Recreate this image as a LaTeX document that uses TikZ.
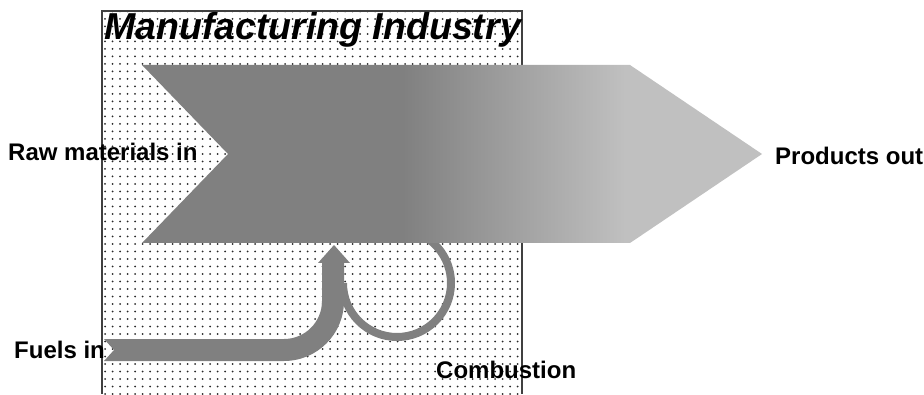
\documentclass[tikz,border=0pt]{standalone}
\usepackage{fontspec}
\setmainfont{Liberation Sans}
\usetikzlibrary{patterns.meta}
\definecolor{flowgray}{RGB}{128,128,128}
\definecolor{flowlight}{RGB}{192,192,192}
\definecolor{dotgray}{RGB}{40,40,40}
\pgfdeclarehorizontalshading{flowshade}{100bp}{color(0bp)=(flowgray); color(46bp)=(flowgray); color(64bp)=(flowlight); color(100bp)=(flowlight)}
\tikzset{flowlabel/.style={anchor=base west, inner sep=0pt, font=\bfseries\fontsize{24}{27}\selectfont}}

\begin{document}
\begin{tikzpicture}[x=1pt, y=1pt]
\useasboundingbox (0,0) rectangle (924,394);
\fill[pattern={Dots[distance=7.5pt, radius=1pt]}, pattern color=dotgray] (102,0) rectangle (522,383);
\draw[black!75, line width=2pt] (102,0) -- (102,383) -- (522,383) -- (522,0);
\node[anchor=base west, inner sep=0pt, font=\bfseries\itshape\fontsize{37.5}{40}\selectfont] (title) at (104,354) {Manufacturing Industry};

\fill[flowgray] (104,55) -- (284,55) arc[start angle=-90, end angle=0, radius=38]
  -- (322,131) -- (318,131) -- (334,149) -- (350,131) -- (344,131) -- (344,93)
  arc[start angle=0, end angle=-90, radius=60] -- (104,33) -- (114,44) -- cycle;
\draw[flowgray, line width=8pt] (343,111) arc[start angle=180, end angle=440, radius=54];
\shade[shading=flowshade] (142,329) -- (630,329) -- (762,240) -- (630,151) -- (142,151) -- (228,240) -- cycle;

\node[flowlabel] (raw) at (8,233) {Raw materials in};
\node[flowlabel] (products) at (775,229) {Products out};
\node[flowlabel] (fuels) at (14,36) {Fuels in};
\node[flowlabel] (combustion) at (436,16) {Combustion};
\end{tikzpicture}
\end{document}
